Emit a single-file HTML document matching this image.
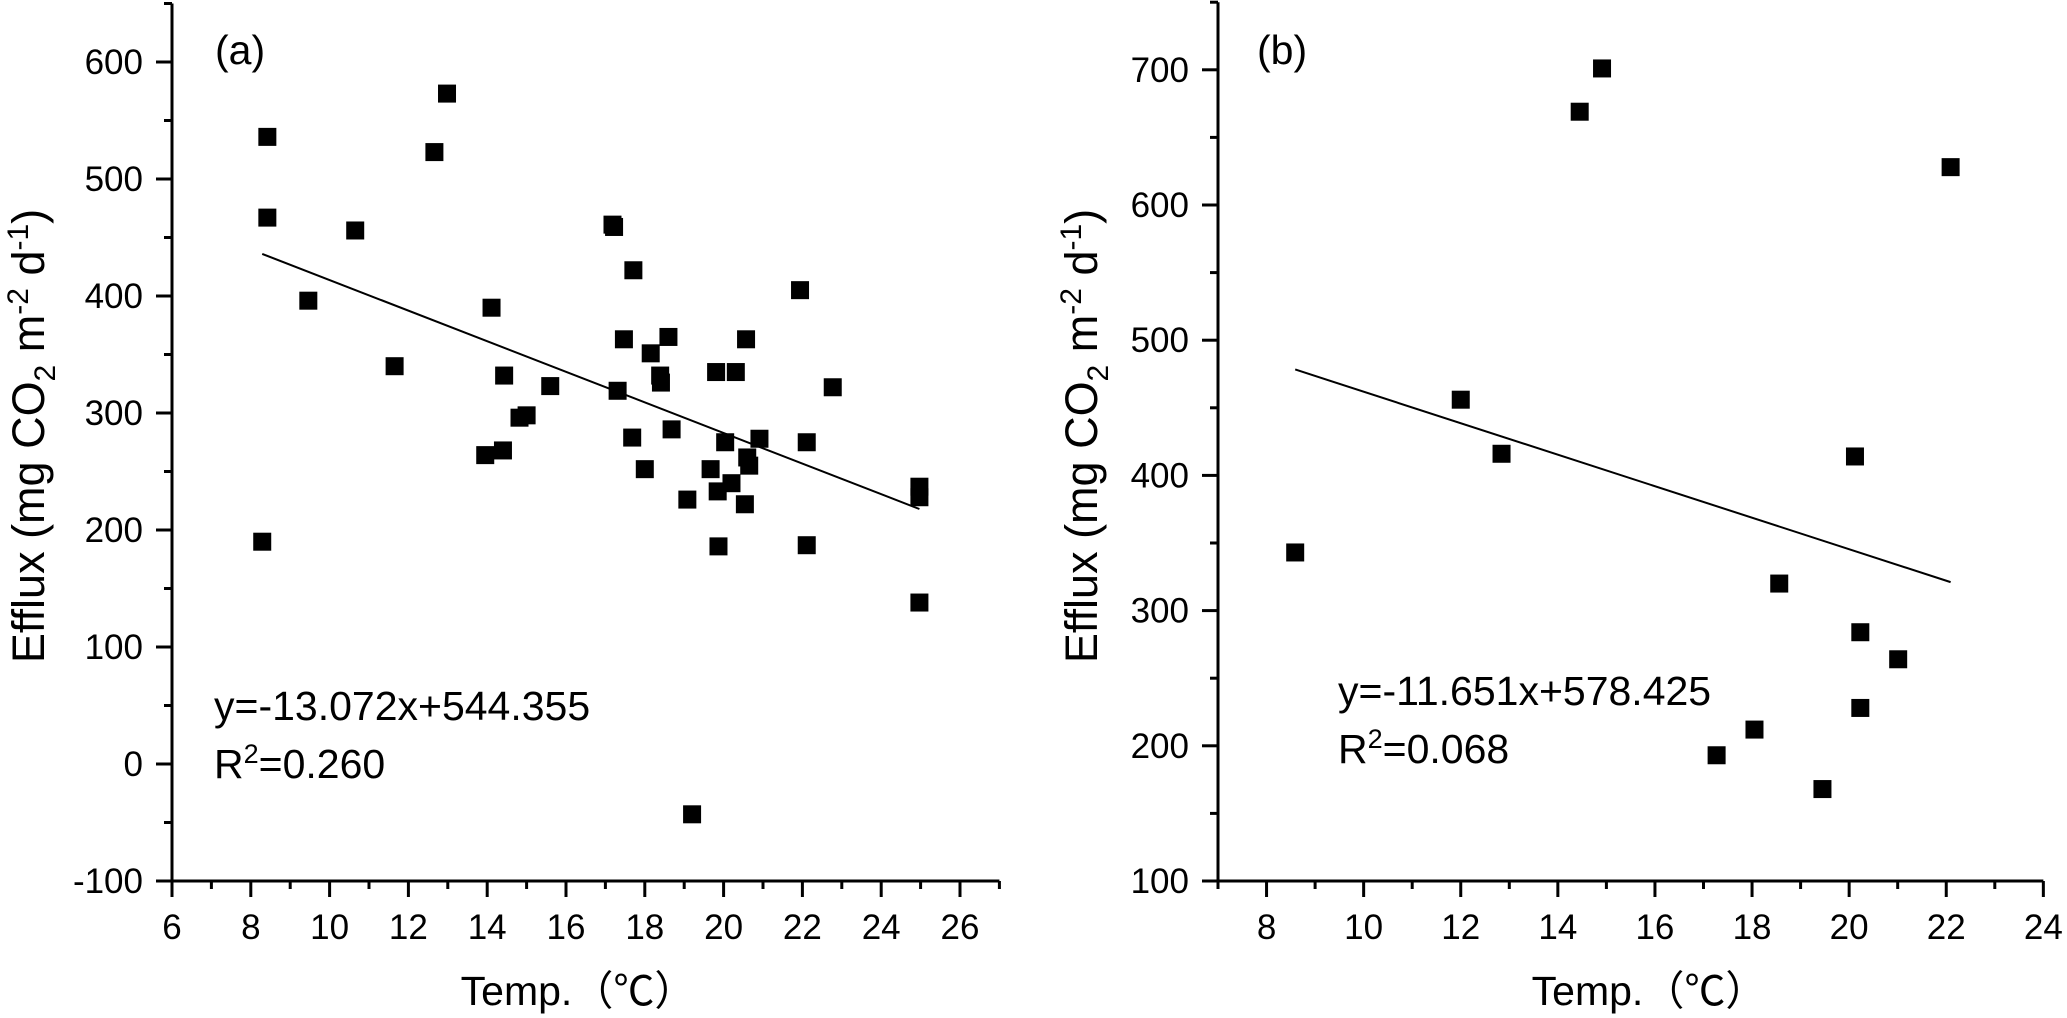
<!DOCTYPE html>
<html><head><meta charset="utf-8"><style>
body{margin:0;background:#fff}
svg{display:block}
text{font-family:"Liberation Sans","Noto Sans CJK SC",sans-serif;fill:#000}
</style></head><body>
<svg id="chart" width="2067" height="1018" viewBox="0 0 2067 1018" xmlns="http://www.w3.org/2000/svg"></svg>
<script>
const aTemp=[8.29,8.42,8.42,9.46,10.65,11.65,12.66,12.98,13.95,14.11,14.4,14.43,14.82,15.0,15.6,17.18,17.22,17.71,21.94,17.47,18.6,18.15,20.57,18.39,18.41,19.81,20.31,17.31,22.77,17.68,18.68,20.04,20.91,22.11,18.0,19.67,20.6,20.65,20.2,19.85,19.08,20.54,24.97,24.97,19.87,22.11,24.97,19.2];
const aEfflux=[190,536,467,396,456,340,523,573,264,390,268,332,296,298,323,461,459,422,405,363,365,351,363,332,326,335,335,319,322,279,286,275,278,275,252,252,262,255,240,233,226,222,237,228,186,187,138,-43];
const bTemp=[8.59,12.0,12.84,14.45,14.91,22.09,18.56,17.27,18.05,19.45,20.12,20.23,20.23,21.01];
const bEfflux=[343,456,416,669,701,628,320,193,212,168,414,228,284,264];
const aFit=[-13.072,544.355], bFit=[-11.651,578.425];
const aXTicks=[6,8,10,12,14,16,18,20,22,24,26], aYTicks=[-100,0,100,200,300,400,500,600];
const bXTicks=[8,10,12,14,16,18,20,22,24], bYTicks=[100,200,300,400,500,600,700];

const svg=document.getElementById('chart');
const NS='http://www.w3.org/2000/svg';
function mk(tag,attrs,parent){const e=document.createElementNS(NS,tag);for(const k in attrs)e.setAttribute(k,attrs[k]);(parent||svg).appendChild(e);return e;}

function panel(p){
  const g=mk('g',{});
  
  
  const X=v=>p.x0+(v-p.xmin)*p.xs, Y=v=>p.y0-(v-p.ymin)*p.ys;
  const axisY=Y(p.ymin), axisX=X(p.xmin);
  const ya=mk('line',{x1:axisX,y1:Y(p.ymax),x2:axisX,y2:axisY,stroke:'#000','stroke-width':3},g);
  
  const xa=mk('line',{x1:axisX-1.5,y1:axisY,x2:X(p.xmax),y2:axisY,stroke:'#000','stroke-width':3},g);
  
  for(let v=p.ymin;v<=p.ymax+1e-9;v+=p.ystep/2){
    const major=Math.abs(((v-p.ymin)/p.ystep)%1)<1e-6;
    mk('line',{x1:axisX-(major?16:8),y1:Y(v),x2:axisX,y2:Y(v),stroke:'#000','stroke-width':3},g);
  }
  for(let v=p.xmin;v<=p.xmax+1e-9;v+=1){
    const major=p.xticks.includes(v);
    mk('line',{x1:X(v),y1:axisY,x2:X(v),y2:axisY+(major?16:8),stroke:'#000','stroke-width':3},g);
  }
  p.yticks.forEach(v=>{const t=mk('text',{x:axisX-29,y:Y(v)+12,'text-anchor':'end','font-size':35},g);t.textContent=v;
    });
  p.xticks.forEach(v=>{const t=mk('text',{x:X(v),y:axisY+58,'text-anchor':'middle','font-size':35},g);t.textContent=v;
    });
  const xs=p.tx, lo=Math.min(...xs), hi=Math.max(...xs);
  const fl=mk('line',{x1:X(lo),y1:Y(p.fit[0]*lo+p.fit[1]),x2:X(hi),y2:Y(p.fit[0]*hi+p.fit[1]),stroke:'#000','stroke-width':2},g);
  
  p.tx.forEach((t,i)=>{
    const r=mk('rect',{x:X(t)-9,y:Y(p.ty[i])-9,width:18,height:18,fill:'#000'},g);
    
    
  });
  const lab=mk('text',{x:p.labx,y:64,'font-size':41},g);lab.textContent=p.label;
  
  const eq=mk('text',{x:p.eqx,y:p.eqy,'font-size':41},g);eq.textContent=p.eq;
  
  const r2=mk('text',{x:p.eqx,y:p.eqy+58,'font-size':41},g);
  r2.innerHTML='R<tspan dy="-15" font-size="27">2</tspan><tspan dy="15">='+p.r2+'</tspan>';
  
  const xt=mk('text',{x:p.xtx,y:1005,'text-anchor':'middle','font-size':41},g);xt.textContent='Temp.（℃）';
  
  const yt=mk('text',{x:0,y:0,'text-anchor':'middle','font-size':45,transform:`translate(${p.ytx},${p.yty}) rotate(-90)`},g);
  yt.innerHTML='Efflux (mg CO<tspan dy="11" font-size="30">2</tspan><tspan dy="-11"> m</tspan><tspan dy="-16" font-size="30">-2</tspan><tspan dy="16"> d</tspan><tspan dy="-16" font-size="30">-1</tspan><tspan dy="16">)</tspan>';
  
}
panel({name:'panel-a',x0:172,xmin:6,xmax:27,xs:39.4,y0:881,ymin:-100,ymax:650,ystep:100,ys:1.17,
  xticks:aXTicks,yticks:aYTicks,tx:aTemp,ty:aEfflux,fit:aFit,label:'(a)',labx:215,eq:'y=-13.072x+544.355',eqx:214,eqy:720,r2:'0.260',
  xtx:578,ytx:44,yty:436});
panel({name:'panel-b',x0:1218,xmin:7,xmax:24,xs:48.55,y0:881,ymin:100,ymax:750,ystep:100,ys:1.352,
  xticks:bXTicks,yticks:bYTicks,tx:bTemp,ty:bEfflux,fit:bFit,label:'(b)',labx:1257,eq:'y=-11.651x+578.425',eqx:1338,eqy:705,r2:'0.068',
  xtx:1649,ytx:1097,yty:436});
</script>
</body></html>
